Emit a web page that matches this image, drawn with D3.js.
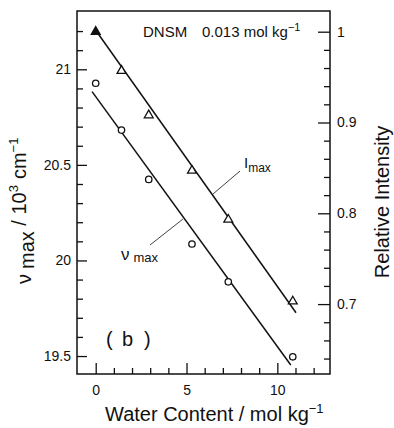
<!DOCTYPE html>
<html>
<head>
<meta charset="utf-8">
<script src="https://cdn.jsdelivr.net/npm/d3@7/dist/d3.min.js"></script>
<style>
  html, body { margin: 0; padding: 0; background: #fff; }
  text { font-family: "Liberation Sans", Arial, Helvetica, sans-serif; fill: #111; }
</style>
</head>
<body>
<svg id="chart" width="394" height="428"></svg>
<script>
// ---- data ----
const water = [0, 1.42, 2.92, 5.30, 7.30, 10.85];          // mol kg^-1
const nuMax = [20.927, 20.682, 20.424, 20.086, 19.888, 19.496]; // 10^3 cm^-1 (circles, left axis)
const relI  = [1.0, 0.957, 0.908, 0.847, 0.793, 0.703];     // relative intensity (triangles, right axis)
// fitted straight lines
const nuFitX = [-0.2, 10.74];
const nuFitY = [20.883, 19.453];
const iFitX  = [-0.05, 11.03];
const iFitY  = [1.003, 0.6905];
// ticks
const xMajor = [0, 5, 10];
const xMinor = [1, 2, 3, 4, 6, 7, 8, 9, 11, 12];
const lMajor = [19.5, 20, 20.5, 21];
const lMinor = [19.6, 19.7, 19.8, 19.9, 20.1, 20.2, 20.3, 20.4, 20.6, 20.7, 20.8, 20.9, 21.1, 21.2];
const rMajor = [0.7, 0.8, 0.9, 1.0];
const rMinor = [0.64, 0.66, 0.68, 0.72, 0.74, 0.76, 0.78, 0.82, 0.84, 0.86, 0.88, 0.92, 0.94, 0.96, 0.98];
const rLabels = ["0.7", "0.8", "0.9", "1"];

// ---- layout ----
const L = 77, R = 330, T = 11, B = 374;
const svg = d3.select("#chart");

const x  = d3.scaleLinear().domain([-1.03, 12.9]).range([L, R]);
const yL = d3.scaleLinear().domain([19.406, 21.305]).range([B, T]);
const yR = d3.scaleLinear().domain([0.623, 1.0228]).range([B, T]);

// frame
svg.append("rect").attr("x", L).attr("y", T).attr("width", R - L).attr("height", B - T)
  .attr("fill", "none").attr("stroke", "#111").attr("stroke-width", 1.5);

function styleAxis(g) {
  g.select(".domain").remove();
  g.selectAll(".tick line").attr("stroke", "#111").attr("stroke-width", 1.3);
  g.selectAll(".tick text").style("font-size", "14px").attr("fill", "#111")
    .style("font-family", "'Liberation Sans', Arial, sans-serif");
}

// bottom axis
svg.append("g").attr("transform", `translate(0,${B})`)
  .call(d3.axisBottom(x).tickValues(xMajor).tickSizeInner(-11).tickSizeOuter(0).tickPadding(11).tickFormat(d3.format("d")))
  .call(styleAxis);
svg.append("g").attr("transform", `translate(0,${B})`)
  .call(d3.axisBottom(x).tickValues(xMinor).tickSizeInner(-6).tickSizeOuter(0).tickFormat(""))
  .call(styleAxis);

// left axis
svg.append("g").attr("transform", `translate(${L},0)`)
  .call(d3.axisLeft(yL).tickValues(lMajor).tickSizeInner(-10).tickSizeOuter(0).tickPadding(6).tickFormat(d => String(d)))
  .call(styleAxis);
svg.append("g").attr("transform", `translate(${L},0)`)
  .call(d3.axisLeft(yL).tickValues(lMinor).tickSizeInner(-6).tickSizeOuter(0).tickFormat(""))
  .call(styleAxis);

// right axis
svg.append("g").attr("transform", `translate(${R},0)`)
  .call(d3.axisRight(yR).tickValues(rMajor).tickSizeInner(-12).tickSizeOuter(0).tickPadding(7)
    .tickFormat((d, i) => rLabels[i]))
  .call(styleAxis);
svg.append("g").attr("transform", `translate(${R},0)`)
  .call(d3.axisRight(yR).tickValues(rMinor).tickSizeInner(-6).tickSizeOuter(0).tickFormat(""))
  .call(styleAxis);

// fit lines
const lineNu = d3.line().x((d, i) => x(nuFitX[i])).y(d => yL(d));
const lineI  = d3.line().x((d, i) => x(iFitX[i])).y(d => yR(d));
svg.append("path").attr("d", lineNu(nuFitY)).attr("fill", "none").attr("stroke", "#111").attr("stroke-width", 1.5);
svg.append("path").attr("d", lineI(iFitY)).attr("fill", "none").attr("stroke", "#111").attr("stroke-width", 1.5);

// circles
svg.append("g").selectAll("circle").data(nuMax).join("circle")
  .attr("cx", (d, i) => x(water[i])).attr("cy", d => yL(d)).attr("r", 3.2)
  .attr("fill", "#fff").attr("stroke", "#111").attr("stroke-width", 1.3);

// triangles
const tri = d3.symbol().type(d3.symbolTriangle).size(34);
svg.append("g").selectAll("path").data(relI).join("path")
  .attr("d", tri)
  .attr("transform", (d, i) => `translate(${x(water[i])},${yR(d)})`)
  .attr("fill", (d, i) => i === 0 ? "#111" : "#fff")
  .attr("stroke", "#111").attr("stroke-width", 1.3);

// annotation: DNSM
const ann = svg.append("text").attr("x", 143).attr("y", 37).style("font-size", "15px");
ann.append("tspan").text("DNSM");
ann.append("tspan").attr("x", 202).text("0.013 mol kg");
ann.append("tspan").attr("dy", -6).style("font-size", "11px").text("−1");

// I_max label
const il = svg.append("text").attr("x", 244).attr("y", 168).style("font-size", "15px");
il.append("tspan").text("I");
il.append("tspan").attr("dy", 4).style("font-size", "12px").text("max");
svg.append("line").attr("x1", 240).attr("y1", 171).attr("x2", 213).attr("y2", 194)
  .attr("stroke", "#111").attr("stroke-width", 0.8);

// nu_max label
const nl = svg.append("text").attr("x", 121).attr("y", 260).style("font-size", "17px");
nl.append("tspan").text("ν");
nl.append("tspan").attr("dx", 4).attr("dy", 2).style("font-size", "13px").text("max");
svg.append("line").attr("x1", 150).attr("y1", 245).attr("x2", 183).attr("y2", 219)
  .attr("stroke", "#111").attr("stroke-width", 0.8);

// (b)
const bl = svg.append("text").attr("y", 346).style("font-size", "20px");
bl.append("tspan").attr("x", 106).text("(");
bl.append("tspan").attr("x", 122).text("b");
bl.append("tspan").attr("x", 144).text(")");

// x axis title
const xt = svg.append("text").attr("x", 105).attr("y", 421).style("font-size", "20px");
xt.append("tspan").text("Water Content / mol kg");
xt.append("tspan").attr("dy", -8).style("font-size", "13px").text("−1");

// left axis title
const lt = svg.append("text").attr("transform", "translate(26,284) rotate(-90)").style("font-size", "20px");
lt.append("tspan").attr("dy", 5).text("ν");
lt.append("tspan").attr("dx", 5).attr("dy", 3).text("max");
lt.append("tspan").attr("dy", -8).text(" / 10");
lt.append("tspan").attr("dy", -8).style("font-size", "13px").text("3");
lt.append("tspan").attr("dx", 6).attr("dy", 8).text("cm");
lt.append("tspan").attr("dy", -8).style("font-size", "13px").text("−1");

// right axis title
svg.append("text").attr("transform", "translate(389,202) rotate(-90)")
  .attr("text-anchor", "middle").style("font-size", "20px").text("Relative Intensity");
</script>
</body>
</html>
